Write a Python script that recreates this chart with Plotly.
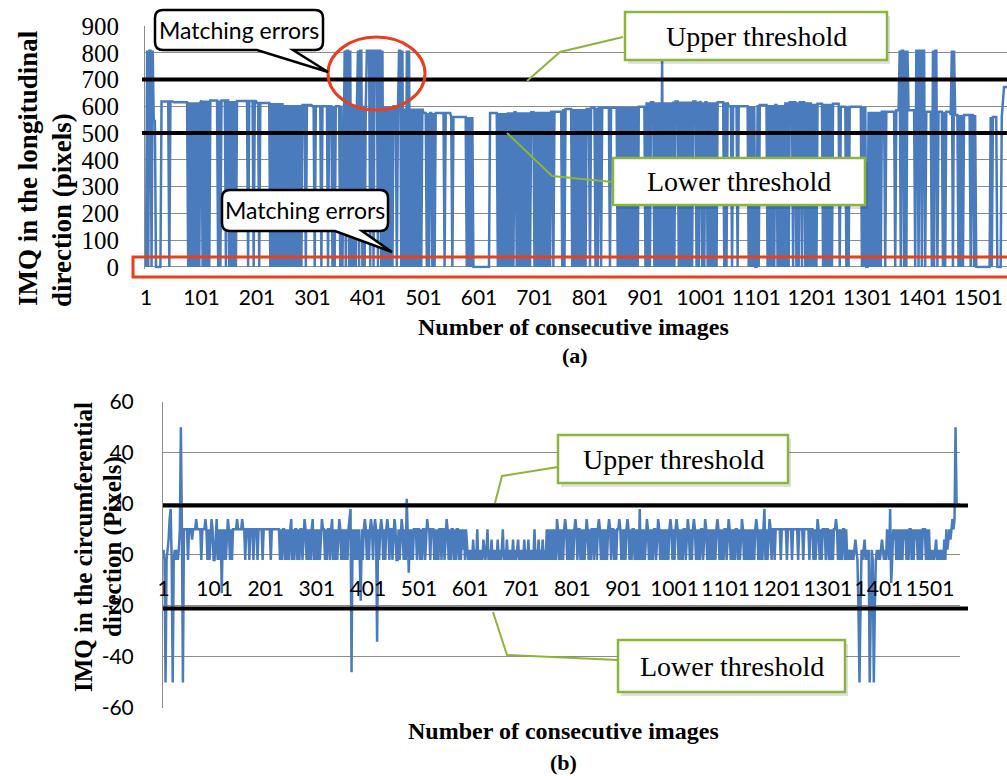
import plotly.graph_objects as go

W, H = 1007, 776

# ---------------- data ----------------
# (a) longitudinal IMQ, one symbol per two consecutive images (1, 3, 5, ...)
# 'H' = normal matching value (block level below), '0' = error at zero,
# 'S','T','M','L','P','U' = other read values (see TOP_CODES)
TOP_ROWS = [
    "0S0SS0SMM0" "0000HHHHHH" "H0HHHHHHHH" "HHHHHHHH0H" "0H0H0H0H0H",
    "H0H0H0H0HH" "HHHHH0H0HH" "HH0HH0H0H0" "H0HHHHHHHH" "HH0HHHH0HH",
    "HH0HHHHHHH" "HH0H0H0H0H" "0H0H0H0H0H" "0H0H0H0H0H" "0HHH0HHHHH",
    "HH0HHHHH0H" "HHHH0HHH0H" "0HHHH0H0HS" "0SS0S0H0H0" "HS0SS0H0HS",
    "SS0SS0SSS0" "SS0S0H0H0H" "0H0HHH0HSS" "0S0H0S0S0H" "0H0H0H0H0H",
    "HHH0H0HH0H" "0HHHHHHHH0" "HHHHHH0HHH" "HHHHHHHHH0" "H0H0H00000",
    "0000000000" "HHHHHHH0H0" "H0H0H0H0H0" "H0HH0H0H0H" "0H0H0H0HHH",
    "0H0H0H0H0H" "0H0H0HH0HH" "HHHHH0H0HH" "HHHH0H0H0H" "0H0H0H0HHH",
    "0HHHH0H0HH" "0HHHHHHH0H" "HHHHH0H0H0" "H0H0H0H0H0" "H0H0HHHHHH",
    "0H0H0HHH0H" "0H0H0T0H0H" "0H0H0H0HHH" "0H0H0H0H0H" "0H0HHH0H0H",
    "H0H0HH0H0H" "0H0H0HHHHH" "H0H0HHHH0H" "HHH0HHHHHH" "HHH0H0H0H0",
    "0H0HHHHHHH" "0H0H0H0HH0" "H0H0H0H0H0" "HHH0HH0H0H" "H0HH0H0H0H",
    "0H0H0HHHHH" "0H0H0H0H0H" "HHHHH0HHHH" "H0H0HHHHHH" "HHHHH0H0H0",
    "0H0H0H0H0H" "0H0HHH0HHH" "HHHHH0HHHS" "0SS0S0SHHH" "HHH0SS0SS0",
    "SS0HHHHH0S" "0SS0HHHH0H" "0HHHHHS0SH" "HH0H0H0HHH" "HHH0HH0H00",
    "0000000000" "0L0LLLL000" "0LPUUUUUUU" "UUU",
]
# normal level of 'H' per block of 50 images
TOP_LEVELS = [618, 615, 622, 620, 612, 605, 600, 602, 600, 592, 575, 560, 575, 578, 580, 590,
              595, 598, 615, 618, 615, 600, 605, 615, 610, 598, 580, 585, 580, 568, 555, 600]
TOP_CODES = {"0": 0, "S": 808, "T": 780, "M": 545, "L": 560, "P": 615, "U": 672}

# (b) circumferential IMQ, one symbol per two consecutive images
BOT_ROWS = [
    "baYabcefaY" "abababdXdY" "ddddadddcd" "ddeddddadd" "dedadadeda",
    "adeadadsda" "dadedadadd" "ddeddddedd" "adddadddad" "ddaddddadd",
    "dddddadddd" "ddddadadda" "dadadeadad" "dadaddaded" "adadadeada",
    "dadadeddad" "addadeadad" "adedadadad" "adefpdadad" "adardadeda",
    "dadedadedq" "dadedadade" "daddadedaa" "dadedadagd" "tdadadddad",
    "dadaddaded" "dadddadada" "ddaddadeda" "daddadadda" "dadbdadbab",
    "abacabadab" "abacbabdab" "acababacab" "abdabacaba" "bacababcab",
    "abacabacab" "abadabacab" "acabadadad" "adadaedada" "dadedadada",
    "dadedaddad" "adadedadad" "daddadedad" "adadadedad" "dadaddedad",
    "adadedadad" "dadadafada" "dadedadada" "ddadedadad" "adadadedad",
    "adedadadad" "dadedadade" "dadadaddad" "edadadadad" "adedadadad",
    "dadedadada" "ddadadedad" "adadadadad" "edadadadfa" "dadedaddad",
    "ddddaddddd" "addddadddd" "daddddaddd" "ddadddadad" "edadadddad",
    "dadadadded" "adadaddada" "babababcba" "vYvbabcaba" "bYvbaYvaba",
    "babcbabadb" "afuadcdada" "dadadcdada" "ddadadcdad" "adadddadad",
    "abababcaba" "babacadbcd" "cdedeXw",
]
BOT_CODES = {"a": -2, "b": 2, "c": 6, "d": 10, "e": 14, "f": 18, "g": 22, "w": 20,
             "X": 50, "Y": -50, "p": -46, "q": -34, "r": -18, "s": -15, "t": -7,
             "u": -11, "v": -21}
STEP = 2

X_TICKS = [1, 101, 201, 301, 401, 501, 601, 701, 801, 901, 1001, 1101, 1201, 1301, 1401, 1501]
X_TICK_TEXT = [str(v) for v in X_TICKS]
TOP_Y_TICKS = [0, 100, 200, 300, 400, 500, 600, 700, 800, 900]
BOT_Y_TICKS = [-60, -40, -20, 0, 20, 40, 60]
BOT_Y_TEXT = ["-60", "-40", "-20", "0", "20", "40", "60"]
TOP_THRESH = [700, 500]
BOT_THRESH = [19.3, -21]

# ---------------- build series ----------------
top_seq = "".join(TOP_ROWS)
top_x = [1 + STEP * i for i in range(len(top_seq))]
top_y = [TOP_LEVELS[(x - 1) // 50] if ch == "H" else TOP_CODES[ch] for x, ch in zip(top_x, top_seq)]
bot_seq = "".join(BOT_ROWS)
bot_x = [1 + STEP * i for i in range(len(bot_seq))]
bot_y = [BOT_CODES[ch] for ch in bot_seq]

BLUE = "#4a7bbd"
RED = "#e8401c"
GREEN = "#8db43c"
GRID = "#8c8c8c"
SERIF = "Liberation Serif, Times New Roman, serif"
SANS = "Lato, Open Sans, sans-serif"


def px(x):
    return x / W


def py(y):
    return 1 - y / H


fig = go.Figure()
fig.add_trace(go.Scatter(x=top_x, y=top_y, mode="lines", line=dict(color=BLUE, width=2.5),
                         xaxis="x", yaxis="y", showlegend=False, hoverinfo="skip"))
fig.add_trace(go.Scatter(x=bot_x, y=bot_y, mode="lines", line=dict(color=BLUE, width=2.5),
                         xaxis="x2", yaxis="y2", showlegend=False, hoverinfo="skip"))

shapes = []
# threshold lines
for v in TOP_THRESH:
    shapes.append(dict(type="line", xref="paper", yref="y", x0=px(142), x1=1.0, y0=v, y1=v,
                       line=dict(color="black", width=4), layer="above"))
for v in BOT_THRESH:
    shapes.append(dict(type="line", xref="paper", yref="y2", x0=px(163), x1=px(968), y0=v, y1=v,
                       line=dict(color="black", width=4), layer="above"))
# red marks
shapes.append(dict(type="rect", xref="paper", yref="paper", x0=px(133), x1=px(1012),
                   y0=py(277), y1=py(257), line=dict(color=RED, width=3), layer="above"))
shapes.append(dict(type="circle", xref="paper", yref="paper", x0=px(328), x1=px(425),
                   y0=py(110), y1=py(37), line=dict(color=RED, width=3), layer="above"))


def callout_path(x0, y0, x1, y1, ta, tb, tx, ty, r=8):
    pts = [("M", x0 + r, y0), ("L", x1 - r, y0), ("Q", x1, y0, x1, y0 + r), ("L", x1, y1 - r),
           ("Q", x1, y1, x1 - r, y1), ("L", tb, y1), ("L", tx, ty), ("L", ta, y1),
           ("L", x0 + r, y1), ("Q", x0, y1, x0, y1 - r), ("L", x0, y0 + r), ("Q", x0, y0, x0 + r, y0)]
    out = []
    for p in pts:
        cmd = p[0]
        coords = p[1:]
        s = []
        for i in range(0, len(coords), 2):
            s.append(f"{px(coords[i]):.5f},{py(coords[i + 1]):.5f}")
        out.append(cmd + " " + " ".join(s))
    return " ".join(out) + " Z"


shapes.append(dict(type="path", xref="paper", yref="paper",
                   path=callout_path(155, 10, 323, 50, 257, 293, 328, 72),
                   fillcolor="white", line=dict(color="black", width=2.5), layer="above"))
shapes.append(dict(type="path", xref="paper", yref="paper",
                   path=callout_path(222, 190, 388, 231, 335, 362, 392, 252),
                   fillcolor="white", line=dict(color="black", width=2.5), layer="above"))


def poly(points):
    return "M " + " L ".join(f"{px(a):.5f},{py(b):.5f}" for a, b in points)


# connectors
for pts in [[(623, 37), (560, 52), (527, 81)], [(613, 182), (552, 176), (507, 133)],
            [(558, 467), (502, 476), (495, 503)], [(618, 660), (507, 655), (493, 612)]]:
    shapes.append(dict(type="path", xref="paper", yref="paper", path=poly(pts),
                       line=dict(color=GREEN, width=2), layer="above"))

boxes = [((625, 12, 887, 60), "Upper threshold"), ((613, 158, 865, 205), "Lower threshold"),
         ((558, 435, 788, 483), "Upper threshold"), ((618, 640, 845, 692), "Lower threshold")]
annotations = []
for (x0, y0, x1, y1), txt in boxes:
    shapes.append(dict(type="rect", xref="paper", yref="paper", x0=px(x0 + 3), x1=px(x1 + 3),
                       y0=py(y1 + 4), y1=py(y0 + 4), fillcolor="rgba(0,0,0,0.12)",
                       line=dict(width=0), layer="above"))
    shapes.append(dict(type="rect", xref="paper", yref="paper", x0=px(x0), x1=px(x1),
                       y0=py(y1), y1=py(y0), fillcolor="white",
                       line=dict(color=GREEN, width=2.5), layer="above"))
    annotations.append(dict(xref="paper", yref="paper", x=px((x0 + x1) / 2), y=py((y0 + y1) / 2),
                            text=txt, showarrow=False, xanchor="center", yanchor="middle",
                            font=dict(family=SERIF, size=28, color="black")))

for cx, cy in [(239, 30), (305, 210)]:
    annotations.append(dict(xref="paper", yref="paper", x=px(cx), y=py(cy), text="Matching errors",
                            showarrow=False, xanchor="center", yanchor="middle",
                            font=dict(family=SANS, size=23, color="black")))

# titles
for cx, cy, txt, sz in [(28, 168, "<b>IMQ in the longitudinal</b>", 27),
                        (62, 210, "<b>direction (pixels)</b>", 27),
                        (83, 547, "<b>IMQ in the circumferential</b>", 25),
                        (113, 547, "<b>direction (Pixels)</b>", 25)]:
    annotations.append(dict(xref="paper", yref="paper", x=px(cx), y=py(cy), text=txt,
                            textangle=-90, showarrow=False, xanchor="center", yanchor="middle",
                            font=dict(family=SERIF, size=sz, color="black")))
for cx, cy, txt, sz in [(573, 327, "<b>Number of consecutive images</b>", 24),
                        (575, 356, "<b>(a)</b>", 22),
                        (563, 731, "<b>Number of consecutive images</b>", 24),
                        (563, 762, "<b>(b)</b>", 22)]:
    annotations.append(dict(xref="paper", yref="paper", x=px(cx), y=py(cy), text=txt,
                            showarrow=False, xanchor="center", yanchor="middle",
                            font=dict(family=SERIF, size=sz, color="black")))

fig.update_layout(
    width=W, height=H, margin=dict(l=0, r=0, t=0, b=0, autoexpand=False),
    paper_bgcolor="white", plot_bgcolor="white", showlegend=False,
    xaxis=dict(domain=[px(145), 1.0], range=[-0.8, 1552.4], anchor="y", automargin=False,
               tickmode="array", tickvals=X_TICKS, ticktext=X_TICK_TEXT,
               showgrid=False, zeroline=False, showline=False, ticks="",
               tickfont=dict(family=SANS, size=21, color="black"), ticklabelstandoff=14),
    yaxis=dict(domain=[py(268.6), py(26)], range=[-6, 900], anchor="x", automargin=False,
               tickmode="array", tickvals=TOP_Y_TICKS, ticktext=[str(v) for v in TOP_Y_TICKS],
               showgrid=True, gridcolor=GRID, gridwidth=1, zeroline=False,
               showline=True, linecolor=GRID, linewidth=1, ticks="",
               tickfont=dict(family=SERIF, size=25, color="black"), ticklabelstandoff=20),
    xaxis2=dict(domain=[px(163), px(960)], range=[0.02, 1559.7], anchor="free", position=py(554.3),
                automargin=False,
                tickmode="array", tickvals=X_TICKS, ticktext=X_TICK_TEXT,
                showgrid=False, zeroline=False, showline=False, ticks="",
                tickfont=dict(family=SANS, size=21, color="black"), ticklabelstandoff=20),
    yaxis2=dict(domain=[py(708), py(401.7)], range=[-60, 60], anchor="x2", automargin=False,
                tickmode="array", tickvals=BOT_Y_TICKS, ticktext=BOT_Y_TEXT,
                showgrid=True, gridcolor=GRID, gridwidth=1, zeroline=False,
                showline=True, linecolor=GRID, linewidth=1, ticks="",
                tickfont=dict(family=SANS, size=21, color="black"), ticklabelstandoff=24),
    shapes=shapes, annotations=annotations,
)

fig.write_html("out.html")
